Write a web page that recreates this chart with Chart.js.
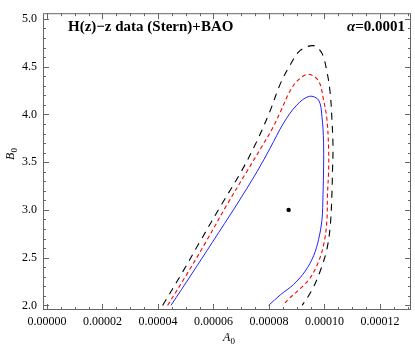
<!DOCTYPE html>
<html>
<head>
<meta charset="utf-8">
<script src="https://cdn.jsdelivr.net/npm/chart.js@4/dist/chart.umd.min.js"></script>
<style>
  html, body { margin: 0; padding: 0; background: #fff; }
  #c { display: block; }
</style>
</head>
<body>
<canvas id="c" width="415" height="346"></canvas>
<script>
/* global Chart */

// tick labels
const A0_TICKS = [0, 2e-5, 4e-5, 6e-5, 8e-5, 1e-4, 1.2e-4];
const B0_TICKS = [2.0, 2.5, 3.0, 3.5, 4.0, 4.5, 5.0];

// 1 sigma contour (blue)
const blueA0 = [4.47e-5, 5.22e-5, 5.96e-5, 6.85e-5, 7.57e-5, 8.05e-5, 8.53e-5, 9.01e-5, 9.46e-5,
  9.79e-5, 9.91e-5, 9.97e-5, 9.97e-5, 9.95e-5, 9.91e-5, 9.79e-5, 9.61e-5, 9.31e-5, 8.89e-5, 8.41e-5, 7.99e-5];
const blueB0 = [2.0, 2.33, 2.66, 3.06, 3.40, 3.65, 3.91, 4.10, 4.19,
  4.15, 3.98, 3.71, 3.45, 3.16, 2.89, 2.69, 2.52, 2.36, 2.22, 2.11, 2.0];

// 2 sigma contour (red)
const redA0 = [4.35e-5, 5.05e-5, 5.72e-5, 6.5e-5, 7.2e-5, 7.78e-5, 8.14e-5, 8.45e-5, 8.75e-5, 9.05e-5, 9.43e-5,
  9.79e-5, 9.97e-5, 10.09e-5, 10.15e-5, 10.15e-5, 10.11e-5, 10.09e-5, 9.99e-5, 9.79e-5, 9.49e-5, 9.07e-5, 8.72e-5, 8.5e-5];
const redB0 = [2.0, 2.33, 2.66, 3.06, 3.40, 3.68, 3.86, 4.05, 4.24, 4.36, 4.42,
  4.35, 4.15, 3.95, 3.65, 3.4, 3.16, 2.89, 2.66, 2.46, 2.29, 2.16, 2.07, 2.0];

// 3 sigma contour (black)
const blackA0 = [4.17e-5, 4.85e-5, 5.5e-5, 6.3e-5, 7.0e-5, 7.55e-5, 8.02e-5, 8.41e-5, 8.77e-5, 9.13e-5, 9.61e-5,
  9.91e-5, 10.09e-5, 10.21e-5, 10.27e-5, 10.31e-5, 10.29e-5, 10.27e-5, 10.21e-5, 10.09e-5, 9.85e-5, 9.55e-5, 9.2e-5];
const blackB0 = [2.0, 2.33, 2.66, 3.06, 3.40, 3.71, 4.02, 4.32, 4.52, 4.67, 4.72,
  4.64, 4.45, 4.22, 3.95, 3.65, 3.4, 3.16, 2.83, 2.59, 2.36, 2.16, 2.0];

// best fit point
const bestA0 = [8.71e-5];
const bestB0 = [3.0];

const SERIF = '"Liberation Serif", "DejaVu Serif", serif';

function toPoints(xs, ys) {
  return xs.map((x, i) => ({ x: x, y: ys[i] }));
}

function contour(xs, ys, color, width, dash) {
  return {
    data: toPoints(xs, ys),
    showLine: true,
    borderColor: color,
    borderWidth: width,
    borderDash: dash,
    pointRadius: 0,
    tension: 0.35,
    fill: false,
  };
}

// frame with inward ticks on all four sides (Mathematica style)
const framePlugin = {
  id: "frame",
  afterDraw(chart) {
    const ctx = chart.ctx;
    const a = chart.chartArea;
    const xs = chart.scales.x;
    const ys = chart.scales.y;
    ctx.save();
    ctx.strokeStyle = "#666";
    ctx.lineWidth = 1;
    ctx.strokeRect(a.left + 0.5, a.top + 0.5, a.right - a.left - 1, a.bottom - a.top - 1);

    ctx.beginPath();
    for (let i = 0; i <= 26; i++) {
      const v = i * 5e-6;
      const px = Math.round(xs.getPixelForValue(v)) + 0.5;
      const len = i % 4 === 0 ? 6 : 3;
      ctx.moveTo(px, a.bottom); ctx.lineTo(px, a.bottom - len);
      ctx.moveTo(px, a.top); ctx.lineTo(px, a.top + len);
    }
    for (let i = 0; i <= 30; i++) {
      const v = 2 + i * 0.1;
      const py = Math.round(ys.getPixelForValue(v)) + 0.5;
      const len = i % 5 === 0 ? 6 : 3;
      ctx.moveTo(a.left, py); ctx.lineTo(a.left + len, py);
      ctx.moveTo(a.right, py); ctx.lineTo(a.right - len, py);
    }
    ctx.stroke();

    // texts
    ctx.fillStyle = "#000";
    ctx.textBaseline = "alphabetic";
    ctx.textAlign = "left";
    ctx.font = "bold 15px " + SERIF;
    ctx.fillText("H(z)\u2212z data (Stern)+BAO", 68, 31);

    ctx.font = "italic bold 15px " + SERIF;
    const alpha = "\u03b1";
    ctx.fillText(alpha, 347, 31);
    const aw = ctx.measureText(alpha).width;
    ctx.font = "bold 15px " + SERIF;
    ctx.fillText("=0.0001", 347 + aw, 31);

    // axis titles
    ctx.font = "italic 12px " + SERIF;
    ctx.fillText("A", 223, 341);
    ctx.font = "9px " + SERIF;
    ctx.fillText("0", 230.5, 344);

    ctx.save();
    ctx.translate(14, 160);
    ctx.rotate(-Math.PI / 2);
    ctx.font = "italic 12px " + SERIF;
    ctx.fillText("B", 0, 0);
    ctx.font = "9px " + SERIF;
    ctx.fillText("0", 7.5, 3);
    ctx.restore();

    ctx.restore();
  },
};

function renderChart() {
  const ctx = document.getElementById("c");
  const datasets = [
    contour(blackA0, blackB0, "#000", 1.1, [7, 6]),
    contour(redA0, redB0, "#ff0000", 1.1, [4, 3]),
    contour(blueA0, blueB0, "#2222ff", 1, []),
    {
      data: toPoints(bestA0, bestB0),
      showLine: false,
      pointRadius: 2.2,
      pointBackgroundColor: "#000",
      pointBorderWidth: 0,
    },
  ];

  // eslint-disable-next-line no-new
  new Chart(ctx, {
    type: "scatter",
    data: { datasets },
    options: {
      responsive: false,
      animation: false,
      devicePixelRatio: 1,
      layout: { padding: { top: 1, right: 4, left: 0, bottom: 0 } },
      plugins: {
        legend: { display: false },
        tooltip: { enabled: false },
      },
      scales: {
        x: {
          type: "linear",
          min: -0.0000014,
          max: 0.0001312,
          afterBuildTicks: (s) => { s.ticks = A0_TICKS.map((v) => ({ value: v })); },
          afterFit: (s) => { s.height = 36; },
          grid: { display: false, drawTicks: false },
          border: { display: false },
          ticks: {
            autoSkip: false,
            maxRotation: 0,
            padding: 5,
            color: "#000",
            font: { family: SERIF, size: 12 },
            callback: (v) => Number(v).toFixed(5),
          },
        },
        y: {
          type: "linear",
          min: 1.952,
          max: 5.06,
          afterBuildTicks: (s) => { s.ticks = B0_TICKS.map((v) => ({ value: v })); },
          afterFit: (s) => { s.width = 43; },
          grid: { display: false, drawTicks: false },
          border: { display: false },
          ticks: {
            autoSkip: false,
            padding: 6,
            color: "#000",
            font: { family: SERIF, size: 12 },
            callback: (v) => Number(v).toFixed(1),
          },
        },
      },
    },
    plugins: [framePlugin],
  });
}

renderChart();
</script>
</body>
</html>
